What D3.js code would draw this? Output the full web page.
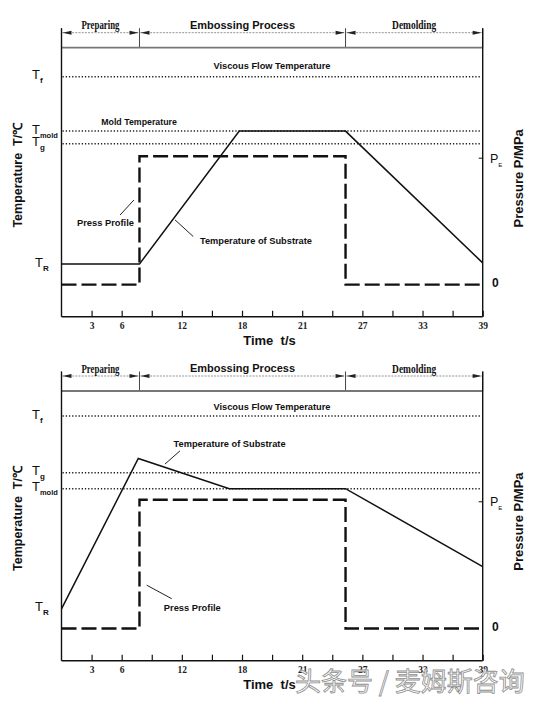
<!DOCTYPE html>
<html><head><meta charset="utf-8">
<script src="https://cdn.jsdelivr.net/npm/d3@7"></script>
<style>body{margin:0;background:#fff}svg{display:block}</style>
</head><body>
<script>
// ---------- data ----------
const timeDomain = [0, 39];
const tickCount = 14;
const tickLabels = ["3","6","","12","","18","","21","","27","","33","","39"];
const phaseNames = ["Preparing","Embossing Process","Demolding"];
const phaseBounds = [0, 7.22, 26.3, 39];
const pressureTime = [0, 7.22, 7.22, 26.3, 26.3, 39];
const pressureValue = [0, 0, 1, 1, 0, 0];
const levelNames = ["f","mold","g","R"];

// panel 1 (mold temperature above Tg)
const temp1Time = [0, 7.22, 16.46, 26.3, 39];
const temp1Value = [19.6, 19.6, 69.0, 69.0, 20.0];
const levels1Value = [89.2, 69.0, 64.3, 19.6];

// panel 2 (mold temperature below Tg)
const temp2Time = [0, 7.11, 15.54, 26.3, 39];
const temp2Value = [19.2, 75.0, 63.8, 63.8, 34.9];
const levels2Value = [90.7, 63.8, 69.7, 19.2];

// annotations in data units [t, temperature]
const ann1 = {
  viscous:[19.49, 93.2], mold:[7.18, 72.4],
  pressText:[4.07, 34.9], pressLead:[[5.42,37.8],[6.71,43.4]],
  tempText:[12.82, 28.3], tempLead:[[10.51,36.0],[12.20,29.8]], tempAnchor:"start"
};
const ann2 = {
  viscous:[19.49, 94.1], mold:null,
  pressText:[12.11, 19.6], pressLead:[[7.89,28.0],[10.20,23.0]],
  tempText:[15.56, 80.6], tempLead:[[9.58,72.9],[10.97,77.8]], tempAnchor:"middle"
};

const W = 549, H = 701;
const svg = d3.select("body").append("svg").attr("width", W).attr("height", H)
  .style("font-family", "'Liberation Sans', Arial, sans-serif");

const x = d3.scaleLinear().domain(timeDomain).range([61.5, 482.7]);

function drawPanel(top, bottom, tTime, tValue, lvls, ann) {
  const g = svg.append("g");
  const y = d3.scaleLinear().domain([0, 100]).range([bottom, top]);
  const yp = d3.scaleLinear().domain([-0.25, 1.845]).range([bottom, top]);

  // header brackets
  const hb = top - 15, ht = top - 19.5;
  phaseBounds.forEach(b => {
    g.append("line").attr("x1", x(b)).attr("x2", x(b)).attr("y1", ht).attr("y2", top)
      .attr("stroke", "#444").attr("stroke-width", 1);
  });
  phaseNames.forEach((n, i) => {
    const x0 = x(phaseBounds[i]) + 1, x1 = x(phaseBounds[i+1]) - 1;
    g.append("line").attr("x1", x0).attr("x2", x1).attr("y1", hb).attr("y2", hb)
      .attr("stroke", "#777").attr("stroke-width", 0.8).attr("stroke-dasharray", "2,1.2");
    g.append("path").attr("d", `M${x0},${hb}L${x0+9},${hb-2}L${x0+9},${hb+2}Z`).attr("fill", "#222");
    g.append("path").attr("d", `M${x1},${hb}L${x1-9},${hb-2}L${x1-9},${hb+2}Z`).attr("fill", "#222");
    const t = g.append("text").attr("x", (x0 + x1) / 2).attr("y", top - 22.7).attr("dy", "0.35em")
      .attr("text-anchor", "middle").attr("fill", "#111").text(n);
    if (i === 1) {
      t.attr("font-size", 11).attr("font-weight", "bold");
    } else {
      t.attr("font-family", "'Liberation Serif', 'Times New Roman', serif")
       .attr("font-size", 12.5).attr("font-weight", "bold")
       .attr("textLength", i === 0 ? 38 : 44).attr("lengthAdjust", "spacingAndGlyphs");
    }
  });

  // frame
  g.append("line").attr("x1", x(0)).attr("x2", x(39)).attr("y1", top).attr("y2", top)
    .attr("stroke", "#777").attr("stroke-width", 1.8);
  g.append("line").attr("x1", x(0)).attr("x2", x(0)).attr("y1", ht).attr("y2", bottom)
    .attr("stroke", "#111").attr("stroke-width", 1.4);
  g.append("line").attr("x1", x(39)).attr("x2", x(39)).attr("y1", ht).attr("y2", bottom)
    .attr("stroke", "#111").attr("stroke-width", 1.4);

  // bottom axis
  const tickVals = d3.range(1, tickCount + 1).map(i => i * timeDomain[1] / tickCount);
  const axis = d3.axisBottom(x).tickValues(tickVals).tickSizeInner(-6).tickSizeOuter(0)
    .tickPadding(5).tickFormat((d, i) => tickLabels[i]);
  const ag = g.append("g").attr("transform", `translate(0,${bottom})`).call(axis);
  ag.select(".domain").attr("stroke", "#111").attr("stroke-width", 1.4)
    .attr("d", `M${x(0)},0H${x(39)}`);
  ag.selectAll(".tick line").attr("stroke", "#111").attr("stroke-width", 1.2);
  ag.selectAll(".tick text").attr("y", 9).attr("dy", "0.35em")
    .attr("font-family", "'Liberation Serif', 'Times New Roman', serif")
    .attr("font-size", 9.5).attr("font-weight", "bold").attr("fill", "#222");

  g.append("text").attr("x", 269.5).attr("y", bottom + 23.5).attr("dy", "0.35em")
    .attr("text-anchor", "middle").attr("font-size", 13).attr("font-weight", "bold")
    .attr("fill", "#111").text("Time\u00a0\u00a0t/s");

  // axis titles
  g.append("text").attr("transform", `translate(18,${top + 127.5}) rotate(-90)`)
    .attr("dy", "0.35em").attr("text-anchor", "middle").attr("font-size", 12.5)
    .attr("font-weight", "bold").attr("fill", "#111").text("Temperature\u00a0\u00a0T/\u2103");
  g.append("text").attr("transform", `translate(518,${top + 130.6}) rotate(-90)`)
    .attr("dy", "0.35em").attr("text-anchor", "middle").attr("font-size", 13)
    .attr("font-weight", "bold").attr("fill", "#111").text("Pressure P/MPa");

  // dotted temperature levels (Tf, Tmold, Tg)
  lvls.forEach((v, i) => {
    if (levelNames[i] !== "R") {
      g.append("line").attr("x1", x(0) + 1).attr("x2", x(39) - 1).attr("y1", y(v)).attr("y2", y(v))
        .attr("stroke", "#222").attr("stroke-width", 1.5).attr("stroke-dasharray", "1.3,1.9");
    }
    const lx = levelNames[i] === "R" ? 35 : 32;
    const lt = g.append("text").attr("x", lx).attr("y", y(v) - 2).attr("dy", "0.35em")
      .attr("font-size", 13).attr("fill", "#111");
    lt.append("tspan").text("T");
    lt.append("tspan").attr("dy", 4).attr("font-size", levelNames[i] === "mold" ? 7.5 : 8)
      .attr("font-weight", "bold").text(levelNames[i]);
  });

  // right labels
  g.append("line").attr("x1", x(39) - 4).attr("x2", x(39)).attr("y1", yp(1) + 2).attr("y2", yp(1) + 2)
    .attr("stroke", "#111").attr("stroke-width", 1);
  const pe = g.append("text").attr("x", 490).attr("y", yp(1) + 2).attr("dy", "0.35em")
    .attr("font-size", 12.5).attr("fill", "#111");
  pe.append("tspan").text("P");
  pe.append("tspan").attr("dy", 4).attr("font-size", 6).text("E");
  g.append("text").attr("x", 492).attr("y", yp(0) - 1.5).attr("dy", "0.35em")
    .attr("font-size", 12).attr("font-weight", "bold").attr("fill", "#111").text("0");

  // pressure profile
  const pLine = d3.line().x(d => x(d[0])).y(d => yp(d[1]));
  g.append("path").datum(pressureTime.map((t, i) => [t, pressureValue[i]]))
    .attr("d", pLine).attr("fill", "none").attr("stroke", "#111")
    .attr("stroke-width", 2.4).attr("stroke-dasharray", "15,5");

  // temperature of substrate
  const tLine = d3.line().x(d => x(d[0])).y(d => y(d[1]));
  g.append("path").datum(tTime.map((t, i) => [t, tValue[i]]))
    .attr("d", tLine).attr("fill", "none").attr("stroke", "#111").attr("stroke-width", 1.5);

  // annotations
  const lab = (p, txt, anchor, fs, len) => g.append("text").attr("x", x(p[0])).attr("y", y(p[1]))
    .attr("dy", "0.35em").attr("text-anchor", anchor).attr("font-size", fs)
    .attr("font-weight", "bold").attr("fill", "#111")
    .attr("textLength", len).attr("lengthAdjust", "spacingAndGlyphs").text(txt);
  lab(ann.viscous, "Viscous Flow Temperature", "middle", 9.2, 117);
  if (ann.mold) lab(ann.mold, "Mold Temperature", "middle", 8.7, 75.7);
  lab(ann.pressText, "Press Profile", "middle", 9.3, 57);
  lab(ann.tempText, "Temperature of Substrate", ann.tempAnchor, 9.2, 112);
  [ann.pressLead, ann.tempLead].forEach(l => {
    g.append("line").attr("x1", x(l[0][0])).attr("y1", y(l[0][1]))
      .attr("x2", x(l[1][0])).attr("y2", y(l[1][1]))
      .attr("stroke", "#222").attr("stroke-width", 1);
  });
}

drawPanel(47.7, 316.7, temp1Time, temp1Value, levels1Value, ann1);
drawPanel(391, 660.7, temp2Time, temp2Value, levels2Value, ann2);

// watermark
svg.append("text").attr("x", 295).attr("y", 682).attr("dy", "0.35em")
  .attr("font-family", "'Noto Sans CJK SC', sans-serif").attr("font-size", 26)
  .attr("fill", "#fbfbfb").attr("stroke", "#8f8f8f").attr("stroke-width", 0.8)
  .text("头条号 / 麦姆斯咨询");
</script>
</body></html>
